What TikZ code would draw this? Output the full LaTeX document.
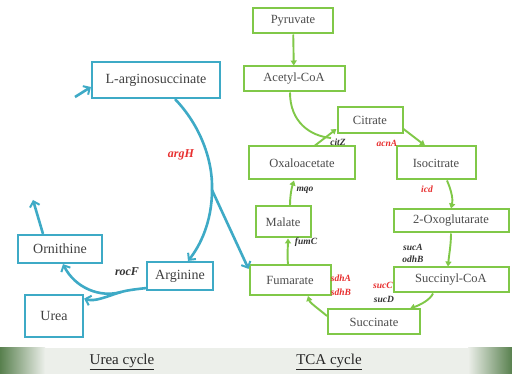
\documentclass[tikz,border=0pt]{standalone}
\usepackage{fontspec}
\setmainfont{Liberation Serif}
\usetikzlibrary{arrows.meta}
\definecolor{ureablue}{RGB}{62,170,198}
\definecolor{tcagreen}{RGB}{128,200,72}
\definecolor{genered}{RGB}{232,48,48}
\definecolor{bandgreen}{RGB}{88,128,78}
\definecolor{bandmid}{RGB}{236,239,234}
\begin{document}
\begin{tikzpicture}[x=1pt, y=-1pt,
  ubox/.style={draw=ureablue, line width=2.2pt, fill=white, inner sep=0pt, text=black!75, font=\fontsize{14}{16}\selectfont},
  tbox/.style={draw=tcagreen, line width=2pt, fill=white, inner sep=0pt, text=black!70, font=\fontsize{12.5}{14}\selectfont},
  uline/.style={draw=ureablue, line width=2.6pt},
  uarr/.style={uline, -{Straight Barb[length=5pt, width=10pt, line width=2pt]}},
  tline/.style={draw=tcagreen, line width=1.9pt},
  tarr/.style={tline, -{Triangle[length=5pt, width=6pt]}},
  gene/.style={inner sep=0pt, font=\fontsize{9.5}{11}\selectfont\bfseries\itshape},
  ugene/.style={inner sep=0pt, font=\fontsize{12}{14}\selectfont\bfseries\itshape},
  cyclelabel/.style={inner sep=0pt, text=black!85, font=\fontsize{15}{18}\selectfont}
]
\useasboundingbox (0,0) rectangle (512,374);
\fill[white] (0,0) rectangle (512,374);
\fill[bandmid] (0,348) rectangle (512,374);
\shade[left color=bandgreen, right color=bandmid] (0,348) rectangle (45,374);
\shade[left color=bandmid, right color=bandgreen] (468,348) rectangle (512,374);
\node[cyclelabel] (ureacyc) at (122,362) {\underline{Urea cycle}};
\node[cyclelabel] (tcacyc) at (329,362) {\underline{TCA cycle}};
\node[tbox, minimum width=80pt, minimum height=25pt] (pyr) at (293,21) {Pyruvate};
\node[tbox, minimum width=101pt, minimum height=25pt] (acoa) at (294,79) {Acetyl-CoA};
\node[tbox, minimum width=65pt, minimum height=26pt] (cit) at (370,120) {Citrate};
\node[tbox, minimum width=106pt, minimum height=33pt] (oaa) at (302,163) {Oxaloacetate};
\node[tbox, minimum width=79pt, minimum height=33pt] (icit) at (436,163) {Isocitrate};
\node[tbox, minimum width=55pt, minimum height=31pt] (mal) at (283,222) {Malate};
\node[tbox, minimum width=81pt, minimum height=30pt] (fum) at (290,280) {Fumarate};
\node[tbox, minimum width=115pt, minimum height=23pt] (oxo) at (451,221) {2-Oxoglutarate};
\node[tbox, minimum width=115pt, minimum height=25pt] (scoa) at (451,280) {Succinyl-CoA};
\node[tbox, minimum width=92pt, minimum height=25pt] (suc) at (374,322) {Succinate};
\node[ubox, minimum width=128pt, minimum height=36pt] (asuc) at (156,80) {L-arginosuccinate};
\node[ubox, minimum width=84pt, minimum height=28pt] (orn) at (60,249) {Ornithine};
\node[ubox, minimum width=66pt, minimum height=28pt] (arg) at (180,276) {Arginine};
\node[ubox, minimum width=58pt, minimum height=42pt] (urea) at (54,316) {Urea};
\coordinate (ubr) at (212,190);
\coordinate (usplit) at (121,292);
\coordinate (ornout) at (33,200);
\coordinate (asucin) at (75,97);
\coordinate (cjoin) at (331,138);
\draw[uline] ([xshift=19pt]asuc.south) .. controls (200,125) and (213,160) .. (ubr);
\draw[uarr] (ubr) .. controls (212,222) and (200,246) .. ([xshift=8pt]arg.north);
\draw[uarr] (ubr) -- (fum.165);
\draw[uline] ([yshift=3pt]arg.south west) .. controls (138,289) and (128,290) .. (usplit);
\draw[uarr] (usplit) .. controls (100,298) and (75,288) .. ([xshift=3pt]orn.south);
\draw[uarr] (usplit) .. controls (105,297) and (95,302) .. (urea.30);
\draw[uarr] ([xshift=-17pt]orn.north) -- (ornout);
\draw[uarr] (asucin) -- ([yshift=-7pt]asuc.west);
\draw[tarr] (pyr) -- (acoa);
\draw[tline] ([xshift=-4pt]acoa.south) .. controls (290,122) and (310,136) .. (cjoin);
\draw[tarr] ([xshift=13pt]oaa.north) -- (cit.195);
\draw[tarr] (cit.-15) -- ([xshift=-11pt]icit.north);
\draw[tarr] ([xshift=11pt]icit.south) .. controls (452,192) and (453,200) .. (oxo.north);
\draw[tarr] (oxo.south) .. controls (451,245) and (449,255) .. ([xshift=-3pt]scoa.north);
\draw[tarr] ([xshift=-18pt]scoa.south) .. controls (430,300) and (420,305) .. ([xshift=36pt]suc.north);
\draw[tarr] ([yshift=6pt]suc.west) .. controls (320,310) and (310,303) .. ([xshift=18pt]fum.south);
\draw[tarr] ([xshift=-2pt]fum.north) .. controls (287,255) and (288,245) .. ([xshift=5pt]mal.south);
\draw[tarr] ([xshift=7pt]mal.north) .. controls (290,198) and (291,190) .. ([xshift=-8pt]oaa.south);
\node[ugene, text=genered] (argH) at (181,155) {argH};
\node[ugene, text=black!80] (rocF) at (127,272) {rocF};
\node[gene, text=black!80] (citZ) at (338,142) {citZ};
\node[gene, text=genered] (acnA) at (387,143) {acnA};
\node[gene, text=genered] (icd) at (427,189) {icd};
\node[gene, text=black!80] (sucA) at (413,247) {sucA};
\node[gene, text=black!80] (odhB) at (413,259) {odhB};
\node[gene, text=genered] (sucC) at (383,285) {sucC};
\node[gene, text=black!80] (sucD) at (384,299) {sucD};
\node[gene, text=genered] (sdhA) at (341,278) {sdhA};
\node[gene, text=genered] (sdhB) at (341,292) {sdhB};
\node[gene, text=black!80] (fumC) at (306,242) {fumC};
\node[gene, text=black!80] (mqo) at (305,190) {mqo};
\end{tikzpicture}
\end{document}
